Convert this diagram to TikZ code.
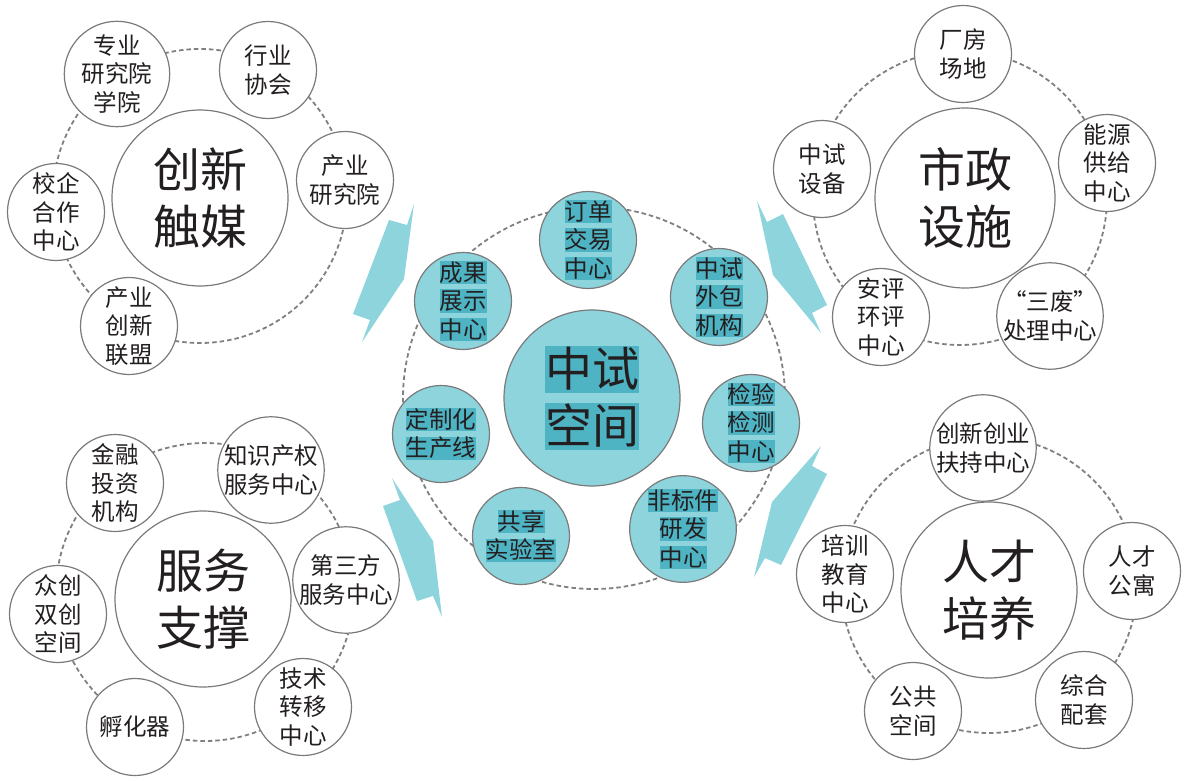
\documentclass[tikz,border=0pt]{standalone}
\usepackage{fontspec}
\setmainfont{Noto Sans CJK SC}
\definecolor{tealfill}{HTML}{8ED4DD}
\definecolor{tealhl}{HTML}{4EB3C3}
\definecolor{circ}{HTML}{7A7A7A}
\definecolor{ringc}{HTML}{808080}
\definecolor{txt}{HTML}{231F20}
\newcommand\hlt[1]{{\setlength{\fboxsep}{0pt}\colorbox{tealhl}{\rule[-0.12em]{0pt}{0.98em}#1}}}
\tikzset{
  ring/.style={draw=ringc, line width=1.8pt, dash pattern=on 4.5pt off 3pt},
  bigc/.style={circle, draw=circ, line width=1.2pt, fill=white, minimum size=176pt, inner sep=0pt, align=center, font=\fontsize{47}{57}\selectfont, text=txt},
  smallc/.style={circle, draw=circ, line width=1.2pt, fill=white, minimum size=97pt, inner sep=0pt, align=center, font=\fontsize{23.5}{28.5}\selectfont, text=txt},
  cbig/.style={bigc, fill=tealfill},
  csmall/.style={smallc, fill=tealfill},
  bolt/.style={fill=tealfill, draw=none}
}
\begin{document}
\begin{tikzpicture}[x=1pt,y=-1pt]
\useasboundingbox (0,0) rectangle (1191,781);
% rings
\coordinate (r1) at (200,196);
\coordinate (r2) at (960,198);
\coordinate (r3) at (205,592);
\coordinate (r4) at (989,585);
\coordinate (r0) at (594,398);
\draw[ring] (r1) circle[radius=147pt];
\draw[ring] (r2) circle[radius=147pt];
\draw[ring] (r3) circle[radius=149pt];
\draw[ring] (r4) circle[radius=148pt];
\draw[ring] (r0) circle[radius=191pt];
% bolts
\fill[bolt] (414,204) -- (407,225) -- (389,220) -- (353,314) -- (370,320) -- (362,342) -- (404,279) -- cycle;
\fill[bolt] (757,201) -- (767,222) -- (783,214) -- (827,305) -- (812,313) -- (821,333) -- (773,275) -- cycle;
\fill[bolt] (392,478) -- (400,500) -- (383,506) -- (417,601) -- (433,596) -- (442,617) -- (433,541) -- cycle;
\fill[bolt] (821,446) -- (812,466) -- (827,474) -- (781,565) -- (765,558) -- (754,577) -- (772,502) -- cycle;
% top-left cluster
\node[bigc] (cx1) at (200,198) {创新\\触媒};
\node[smallc] (a1) at (117,74) {专业\\研究院\\学院};
\node[smallc] (a2) at (268,70) {行业\\协会};
\node[smallc] (a3) at (345,180) {产业\\研究院};
\node[smallc] (a4) at (56,212) {校企\\合作\\中心};
\node[smallc] (a5) at (129,326) {产业\\创新\\联盟};
% top-right cluster
\node[bigc, minimum size=180pt] (cx2) at (965,198) {市政\\设施};
\node[smallc] (b1) at (963,54) {厂房\\场地};
\node[smallc] (b2) at (1107,163) {能源\\供给\\中心};
\node[smallc] (b3) at (822,169) {中试\\设备};
\node[smallc] (b4) at (881,317) {安评\\环评\\中心};
\node[smallc] (b5) at (1050,316) {“三废”\\处理中心};
% bottom-left cluster
\node[bigc] (cx3) at (203,599) {服务\\支撑};
\node[smallc] (c1) at (115,483) {金融\\投资\\机构};
\node[smallc] (c2) at (271,470) {知识产权\\服务中心};
\node[smallc] (c3) at (346,580) {第三方\\服务中心};
\node[smallc] (c4) at (58,614) {众创\\双创\\空间};
\node[smallc] (c5) at (135,727) {孵化器};
\node[smallc] (c6) at (303,707) {技术\\转移\\中心};
% bottom-right cluster
\node[bigc] (cx4) at (989,590) {人才\\培养};
\node[smallc] (d1) at (983,448) {创新创业\\扶持中心};
\node[smallc] (d2) at (1132,571) {人才\\公寓};
\node[smallc] (d3) at (845,574) {培训\\教育\\中心};
\node[smallc] (d4) at (913,711) {公共\\空间};
\node[smallc] (d5) at (1084,700) {综合\\配套};
% center cluster
\node[cbig] (cx0) at (592,398) {\hlt{中试}\\\hlt{空间}};
\node[csmall] (e1) at (588,240) {\hlt{订单}\\\hlt{交易}\\\hlt{中心}};
\node[csmall] (e2) at (719,297) {\hlt{中试}\\\hlt{外包}\\\hlt{机构}};
\node[csmall] (e3) at (751,423) {\hlt{检验}\\\hlt{检测}\\\hlt{中心}};
\node[csmall] (e4) at (683,529) {\hlt{非标件}\\\hlt{研发}\\\hlt{中心}};
\node[csmall] (e5) at (521,536) {\hlt{共享}\\\hlt{实验室}};
\node[csmall] (e6) at (441,434) {\hlt{定制化}\\\hlt{生产线}};
\node[csmall] (e7) at (463,301) {\hlt{成果}\\\hlt{展示}\\\hlt{中心}};
\end{tikzpicture}
\end{document}
